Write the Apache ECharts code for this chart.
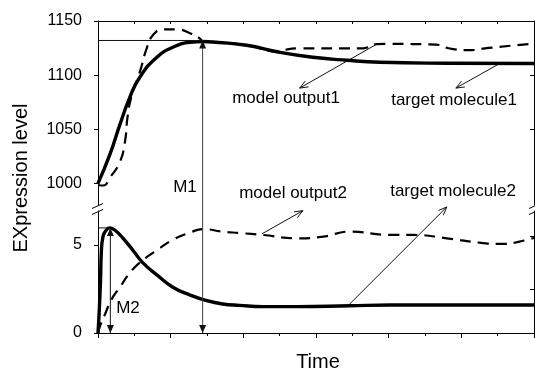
<!DOCTYPE html>
<html>
<head>
<meta charset="utf-8">
<script src="https://cdn.jsdelivr.net/npm/echarts@6/dist/echarts.min.js"></script>
<style>
  html, body { margin: 0; padding: 0; background: #fff; }
  #chart { width: 535px; height: 373px; }
</style>
</head>
<body>
<div id="chart"></div>
<script>
// Upper panel: target molecule 1 and model output 1 (level ~1000-1150)
const tm1Time  = [0, 0.32, 0.6, 0.87, 1.15, 1.62, 2.06, 2.53, 2.88, 3.16, 4.09, 5.0, 5.91, 6.85, 7.76, 9.6, 12];
const tm1Level = [1000, 1026, 1054, 1079, 1098, 1116.5, 1125.7, 1130.4, 1131, 1130.6, 1127.6, 1121.1, 1116.5, 1113.7, 1111.9, 1111, 1110.7];

const mo1Time  = [0, 0.15, 0.32, 0.6, 0.74, 0.82, 0.93, 1.15, 1.34, 1.51, 1.79, 2.17, 2.53, 2.8, 2.88, 3.16, 4.09, 5.0, 5.1, 5.5, 7.3, 7.67, 8.0, 9.3, 9.65, 10.2, 10.75, 12];
const mo1Level = [998.5, 998, 1004.9, 1019.6, 1038, 1063, 1081.5, 1102.7, 1124.8, 1136.8, 1142.3, 1142.3, 1138.7, 1134, 1131.3, 1130.4, 1127.6, 1121.5, 1123, 1124.8, 1124.8, 1128.6, 1128.8, 1128.2, 1124.8, 1123, 1125.1, 1129.2];

// Lower panel: target molecule 2 and model output 2 (level 0-7)
const tm2Time  = [0, 0.03, 0.07, 0.09, 0.14, 0.23, 0.32, 0.46, 0.68, 0.96, 1.23, 1.62, 2.06, 2.53, 2.99, 3.43, 3.9, 4.54, 5.48, 6.93, 8.04, 12];
const tm2Level = [0, 1.1, 3.0, 4.5, 5.5, 5.85, 5.97, 5.85, 5.4, 4.7, 4.0, 3.3, 2.6, 2.16, 1.84, 1.65, 1.57, 1.5, 1.5, 1.55, 1.59, 1.59];

const mo2Time  = [0, 0.05, 0.18, 0.37, 0.6, 0.87, 1.15, 1.62, 2.06, 2.53, 2.88, 3.43, 3.9, 4.54, 5.48, 6.19, 6.93, 8.04, 8.67, 9.6, 10.5, 11.15, 11.6, 12];
const mo2Level = [0, 0.36, 1.0, 1.9, 2.6, 3.4, 4.0, 4.7, 5.3, 5.7, 5.9, 5.76, 5.68, 5.57, 5.38, 5.47, 5.76, 5.57, 5.57, 5.38, 5.13, 5.06, 5.19, 5.41];

// Tick labels
const upperTicks = [1000, 1050, 1100, 1150];
const lowerTicks = [0, 5];

// Peak markers (time, level)
const m1Peak = [2.88, 1132];
const m2Peak = [0.34, 5.97];

const pair = (ts, vs) => ts.map((t, i) => [t, vs[i]]);

const FONT = "'Liberation Sans', Arial, sans-serif";
const black = '#000';
const plain = v => String(v);

const chart = echarts.init(document.getElementById('chart'), null, { renderer: 'canvas' });

const baseX = {
  type: 'value', min: 0, max: 12,
  axisLabel: { show: false },
  splitLine: { show: false },
  axisLine: { show: true, lineStyle: { color: black, width: 1 } }
};
const baseY = {
  type: 'value',
  splitLine: { show: false },
  axisLine: { show: true, lineStyle: { color: black, width: 1 } }
};

chart.setOption({
  animation: false,
  backgroundColor: '#fff',
  grid: [
    { left: 98, top: 21, width: 436, height: 184 },
    { left: 98, top: 211, width: 436, height: 122 }
  ],
  xAxis: [
    Object.assign({}, baseX, {
      gridIndex: 0, position: 'top', interval: 1,
      axisTick: { show: true, inside: true, length: 3, lineStyle: { color: black } }
    }),
    Object.assign({}, baseX, {
      gridIndex: 1, position: 'bottom', interval: 2,
      axisTick: { show: true, inside: false, length: 5, lineStyle: { color: black } },
      minorTick: { show: true, splitNumber: 2, length: 3, lineStyle: { color: black } }
    })
  ],
  yAxis: [
    Object.assign({}, baseY, {
      gridIndex: 0, position: 'left', min: 980, max: 1150,
      axisTick: { show: true, length: 4, customValues: upperTicks, lineStyle: { color: black } },
      axisLabel: { show: true, customValues: upperTicks, formatter: plain, margin: 16, color: black, fontSize: 16, fontFamily: FONT }
    }),
    Object.assign({}, baseY, {
      gridIndex: 0, position: 'right', min: 980, max: 1150,
      axisTick: { show: true, inside: true, length: 4, customValues: [1050, 1100], lineStyle: { color: black } },
      axisLabel: { show: false }
    }),
    Object.assign({}, baseY, {
      gridIndex: 1, position: 'left', min: 0, max: 6.93,
      axisTick: { show: true, length: 4, customValues: lowerTicks, lineStyle: { color: black } },
      axisLabel: { show: true, customValues: lowerTicks, formatter: plain, margin: 16, color: black, fontSize: 16, fontFamily: FONT }
    }),
    Object.assign({}, baseY, {
      gridIndex: 1, position: 'right', min: 0, max: 6.93,
      axisTick: { show: true, inside: true, length: 4, customValues: [2.5, 5.5], lineStyle: { color: black } },
      axisLabel: { show: false }
    })
  ],
  series: [
    {
      name: 'target molecule1', type: 'line', xAxisIndex: 0, yAxisIndex: 0,
      data: pair(tm1Time, tm1Level), showSymbol: false, smooth: 0.5,
      lineStyle: { color: black, width: 3.4 }, z: 3
    },
    {
      name: 'model output1', type: 'line', xAxisIndex: 0, yAxisIndex: 0,
      data: pair(mo1Time, mo1Level), showSymbol: false, smooth: 0.5,
      lineStyle: { color: black, width: 2.2, type: [11, 7] }, z: 2
    },
    {
      name: 'target molecule2', type: 'line', xAxisIndex: 1, yAxisIndex: 2,
      data: pair(tm2Time, tm2Level), showSymbol: false, smooth: 0.5,
      lineStyle: { color: black, width: 3.4 }, z: 3
    },
    {
      name: 'model output2', type: 'line', xAxisIndex: 1, yAxisIndex: 2,
      data: pair(mo2Time, mo2Level), showSymbol: false, smooth: 0.5,
      lineStyle: { color: black, width: 2.2, type: [11, 7] }, z: 2
    }
  ]
});

// ---- annotations, positioned from data coordinates ----
const px = (g, p) => chart.convertToPixel({ gridIndex: g }, p);

const arrowNotes = [
  { g: 0, from: [7.67, 1128.6], to: [5.55, 1088] },   // model output1
  { g: 0, from: [11.07, 1111], to: [9.85, 1088] },    // target molecule1
  { g: 1, from: [4.51, 5.63], to: [5.64, 6.95] },     // model output2
  { g: 1, from: [6.9, 1.59], to: [9.6, 7.16] }        // target molecule2
];

const graphics = [];
const thin = { stroke: '#111', lineWidth: 1 };

function openHead(tip, tail, len, spread) {
  const a = Math.atan2(tail[1] - tip[1], tail[0] - tip[0]);
  return {
    type: 'polyline', silent: true, z: 20,
    shape: { points: [
      [tip[0] + len * Math.cos(a + spread), tip[1] + len * Math.sin(a + spread)],
      tip,
      [tip[0] + len * Math.cos(a - spread), tip[1] + len * Math.sin(a - spread)]
    ] },
    style: Object.assign({ fill: null }, thin)
  };
}
function solidHead(tip, dir, len, half) {
  // dir: +1 points down, -1 points up
  return {
    type: 'polygon', silent: true, z: 20,
    shape: { points: [tip, [tip[0] - half, tip[1] - dir * len], [tip[0] + half, tip[1] - dir * len]] },
    style: { fill: '#111' }
  };
}

arrowNotes.forEach(n => {
  const a = px(n.g, n.from), b = px(n.g, n.to);
  graphics.push({ type: 'line', silent: true, z: 20, shape: { x1: a[0], y1: a[1], x2: b[0], y2: b[1] }, style: thin });
  graphics.push(openHead(b, a, 9, 0.38));
});

// M1: peak reference line and two-headed vertical arrow down to zero
const m1Top = px(0, m1Peak);
const m1Left = px(0, [0, m1Peak[1]]);
const m1Bottom = px(1, [m1Peak[0], 0]);
graphics.push({ type: 'line', silent: true, z: 20, shape: { x1: m1Left[0], y1: m1Top[1], x2: m1Top[0], y2: m1Top[1] }, style: thin });
graphics.push({ type: 'line', silent: true, z: 20, shape: { x1: m1Top[0], y1: m1Top[1], x2: m1Bottom[0], y2: m1Bottom[1] }, style: { stroke: '#444', lineWidth: 1 } });
graphics.push(solidHead(m1Top, -1, 8, 3.5));
graphics.push(solidHead(m1Bottom, 1, 8, 3.5));

// M2
const m2Top = px(1, m2Peak);
const m2Left = px(1, [0, m2Peak[1]]);
const m2Bottom = px(1, [m2Peak[0], 0]);
graphics.push({ type: 'line', silent: true, z: 20, shape: { x1: m2Left[0], y1: m2Top[1], x2: m2Top[0], y2: m2Top[1] }, style: thin });
graphics.push({ type: 'line', silent: true, z: 20, shape: { x1: m2Top[0], y1: m2Top[1], x2: m2Bottom[0], y2: m2Bottom[1] }, style: thin });
graphics.push(solidHead(m2Top, -1, 8, 3.5));
graphics.push(solidHead(m2Bottom, 1, 8, 3.5));

// Axis break marks
[[92, 208.5, 103, 203.5], [92, 214.5, 103, 209.5], [529, 208.5, 540, 203.5], [529, 214.5, 540, 209.5]].forEach(s => {
  graphics.push({ type: 'line', silent: true, z: 21, shape: { x1: s[0], y1: s[1], x2: s[2], y2: s[3] }, style: { stroke: black, lineWidth: 1 } });
});

// Text labels
function label(text, x, y, size, rotation) {
  return {
    type: 'text', silent: true, z: 22, x: x, y: y, rotation: rotation || 0,
    style: { text: text, fill: black, font: size + 'px ' + FONT, align: 'center', verticalAlign: 'middle' }
  };
}
graphics.push(label('model output1', 286, 98, 17));
graphics.push(label('target molecule1', 454, 100, 17));
graphics.push(label('model output2', 293, 193, 17));
graphics.push(label('target molecule2', 453, 191, 17));
graphics.push(label('M1', 185, 187, 17));
graphics.push(label('M2', 128, 308, 17));
graphics.push(label('EXpression level', 21, 178, 20, Math.PI / 2));
graphics.push(label('Time', 318, 362, 20));

chart.setOption({ graphic: graphics });
</script>
</body>
</html>
